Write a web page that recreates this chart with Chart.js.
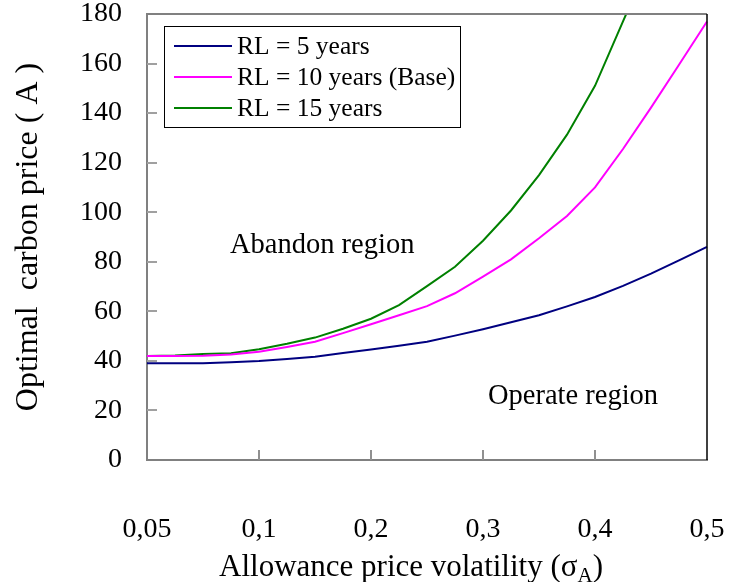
<!DOCTYPE html>
<html>
<head>
<meta charset="utf-8">
<script src="https://cdn.jsdelivr.net/npm/chart.js@4"></script>
<style>
html, body { margin: 0; padding: 0; background: #fff; }
</style>
</head>
<body>
<canvas id="myChart" width="729" height="582"></canvas>
<script>
// categories (volatility) and the ones that get a tick label
const volatility = [0.05, 0.0625, 0.075, 0.0875, 0.1, 0.125, 0.15, 0.175, 0.2, 0.225, 0.25,
                    0.275, 0.3, 0.325, 0.35, 0.375, 0.4, 0.425, 0.45, 0.475, 0.5];
const labeledTicks = [0.05, 0.1, 0.2, 0.3, 0.4, 0.5];

// optimal carbon price
const rl5  = [39.0, 39.0, 39.0, 39.5, 40.0, 40.8, 41.7, 43.2, 44.6, 46.1, 47.7,
              50.2, 52.8, 55.6, 58.4, 62.0, 65.8, 70.3, 75.2, 80.6, 86.0];
const rl10 = [42.0, 42.0, 42.1, 42.6, 43.7, 45.6, 47.7, 51.2, 54.8, 58.4, 62.1,
              67.3, 74.0, 81.0, 89.5, 98.5, 110.0, 125.5, 142.2, 159.5, 177.0];
const rl15 = [42.0, 42.2, 42.8, 43.1, 44.7, 46.9, 49.4, 53.0, 57.0, 62.5, 70.2,
              78.0, 88.5, 100.7, 115.0, 131.3, 151.0, 177.0, 203.0, null, null];

const seriesNames = ['RL = 5 years', 'RL = 10 years (Base)', 'RL = 15 years'];
const seriesColors = ['#000080', '#FF00FF', '#008000'];
const regionLabels = ['Abandon region', 'Operate region'];

const serif = '"Liberation Serif", "Times New Roman", serif';
const fmt = v => String(v).replace('.', ',');

// frame, inner tick marks, legend, region notes and x title
const extras = {
    id: 'extras',
    afterDraw(chart) {
        const {ctx, chartArea: a, scales: {x, y}} = chart;
        ctx.save();

        ctx.strokeStyle = '#808080';
        ctx.lineWidth = 2;
        ctx.beginPath();
        ctx.moveTo(a.left, a.top);
        ctx.lineTo(a.right, a.top);
        ctx.stroke();
        ctx.strokeStyle = '#000';
        ctx.lineWidth = 1.5;
        ctx.beginPath();
        ctx.moveTo(a.right, a.top);
        ctx.lineTo(a.right, a.bottom);
        ctx.stroke();

        ctx.strokeStyle = '#a0a0a0';
        ctx.lineWidth = 2;
        ctx.beginPath();
        y.ticks.forEach(t => {
            const py = Math.round(y.getPixelForValue(t.value));
            if (t.value > 0 && t.value < 180) {
                ctx.moveTo(a.left, py);
                ctx.lineTo(a.left + 10, py);
            }
        });
        ctx.stroke();
        ctx.strokeStyle = '#909090';
        ctx.beginPath();
        labeledTicks.slice(1, -1).forEach(v => {
            const px = Math.round(x.getPixelForValue(volatility.indexOf(v)));
            ctx.moveTo(px, a.bottom);
            ctx.lineTo(px, a.bottom - 10);
        });
        ctx.stroke();

        // legend
        ctx.strokeStyle = '#000';
        ctx.lineWidth = 1;
        ctx.strokeRect(164.5, 26.5, 296, 101);
        ctx.font = '25.5px ' + serif;
        ctx.textBaseline = 'middle';
        ctx.fillStyle = '#000';
        const rows = [46, 77, 108];
        chart.data.datasets.forEach((ds, i) => {
            ctx.strokeStyle = ds.borderColor;
            ctx.lineWidth = 2;
            ctx.beginPath();
            ctx.moveTo(174, rows[i]);
            ctx.lineTo(232, rows[i]);
            ctx.stroke();
            ctx.fillText(ds.label, 237, rows[i] + 1);
        });

        // region notes
        ctx.font = '28.5px ' + serif;
        ctx.fillText(regionLabels[0], 230, 246);
        ctx.fillText(regionLabels[1], 488, 397);

        // x title with subscript
        const main = 'Allowance price volatility (\u03C3';
        ctx.font = '31px ' + serif;
        const w1 = ctx.measureText(main).width;
        ctx.font = '21px ' + serif;
        const w2 = ctx.measureText('A').width;
        ctx.font = '31px ' + serif;
        const w3 = ctx.measureText(')').width;
        let sx = 411 - (w1 + w2 + w3) / 2;
        ctx.fillText(main, sx, 568);
        ctx.font = '21px ' + serif;
        ctx.fillText('A', sx + w1, 576);
        ctx.font = '31px ' + serif;
        ctx.fillText(')', sx + w1 + w2, 568);

        ctx.restore();
    }
};

const ctx = document.getElementById('myChart').getContext('2d');
const chart = new Chart(ctx, {
    type: 'line',
    data: {
        labels: volatility,
        datasets: [rl5, rl10, rl15].map((d, i) => ({
            label: seriesNames[i],
            data: d,
            borderColor: seriesColors[i],
            backgroundColor: seriesColors[i],
            borderWidth: 2,
            pointRadius: 0,
            tension: 0,
            fill: false,
            spanGaps: false
        }))
    },
    options: {
        responsive: false,
        animation: false,
        layout: { padding: { left: 0, right: 22, top: 14, bottom: 0 } },
        plugins: {
            legend: { display: false },
            tooltip: { enabled: false }
        },
        scales: {
            x: {
                type: 'category',
                offset: false,
                grid: { drawOnChartArea: false, drawTicks: false },
                border: { color: '#808080', width: 2 },
                ticks: {
                    autoSkip: false,
                    maxRotation: 0,
                    padding: 56,
                    color: '#000',
                    font: { family: serif, size: 28, lineHeight: 1 },
                    callback: function(value, index) {
                        const v = volatility[index];
                        return labeledTicks.includes(v) ? fmt(v) : '';
                    }
                },
                afterFit: s => {
                    s.height = 122;
                    s.paddingLeft = 0;
                    s.paddingRight = 0;
                }
            },
            y: {
                min: 0,
                max: 180,
                grid: { drawOnChartArea: false, drawTicks: false },
                border: { color: '#808080', width: 2 },
                ticks: {
                    stepSize: 20,
                    padding: 25,
                    color: '#000',
                    font: { family: serif, size: 28, lineHeight: 1 }
                },
                title: {
                    display: true,
                    text: 'Optimal  carbon price ( A )',
                    color: '#000',
                    padding: { top: 13, bottom: 0 },
                    font: { family: serif, size: 32, lineHeight: 1 }
                },
                afterFit: s => {
                    s.width = 147;
                    s.paddingTop = 0;
                    s.paddingBottom = 0;
                }
            }
        }
    },
    plugins: [extras]
});
</script>
</body>
</html>
